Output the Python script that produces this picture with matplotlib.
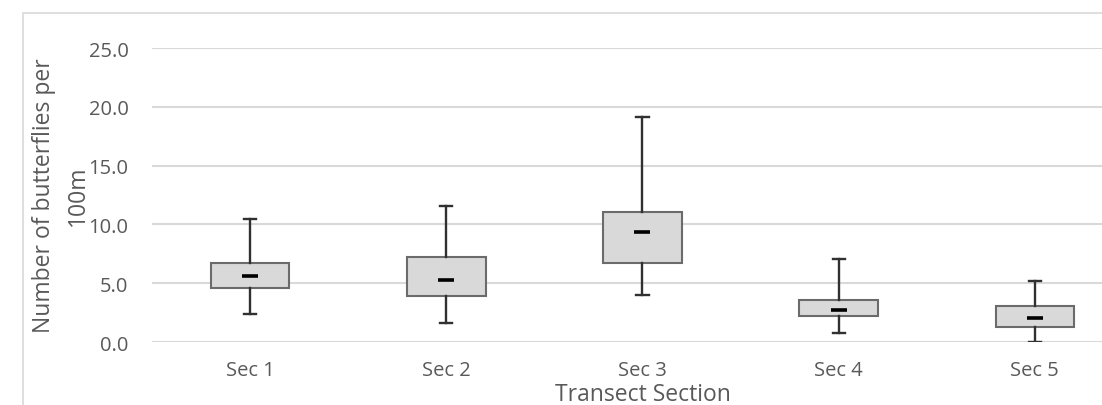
import matplotlib
matplotlib.use("Agg")
import matplotlib.pyplot as plt
from matplotlib.patches import Rectangle

# =========================
# DATA
# =========================
sections = ["Sec 1", "Sec 2", "Sec 3", "Sec 4", "Sec 5"]
whisker_low = [2.38, 1.64, 4.00, 0.77, 0.00]
q1 = [4.56, 3.89, 6.72, 2.24, 1.30]
middle = [5.61, 5.30, 9.38, 2.72, 2.04]
q3 = [6.74, 7.26, 11.03, 3.57, 3.09]
whisker_high = [10.48, 11.54, 19.13, 7.03, 5.19]
y_ticks = [0, 5, 10, 15, 20, 25]

text_col = "#595959"
grid_col = "#d9d9d9"

plt.rcParams["font.family"] = ["Open Sans", "DejaVu Sans"]

# =========================
# PLOT SETUP
# =========================
fig = plt.figure(figsize=(11.02, 4.06), dpi=100)
ax = fig.add_axes([0.138, 0.155, 0.890, 0.724])

# chart area border (only top/left visible in the crop)
fig.patches.append(Rectangle((23 / 1102, -0.1), 1.2, 1.1 - 14 / 406,
                             transform=fig.transFigure, fill=False,
                             edgecolor=grid_col, linewidth=1.2))

stats = []
for i, name in enumerate(sections):
    stats.append({"label": name, "whislo": whisker_low[i], "q1": q1[i],
                  "med": middle[i], "q3": q3[i], "whishi": whisker_high[i],
                  "fliers": []})

pos = list(range(1, len(sections) + 1))
ax.bxp(stats, positions=pos, widths=0.40, patch_artist=True,
       showfliers=False,
       boxprops=dict(facecolor="#d9d9d9", edgecolor="#6b6b6b", linewidth=1.5),
       whiskerprops=dict(color="#303030", linewidth=1.7),
       capprops=dict(color="#303030", linewidth=1.7),
       capwidths=0.062,
       medianprops=dict(visible=False), zorder=3)

# short dash marker for the middle value
ax.plot(pos, middle, linestyle="none", marker="_", markersize=11,
        markeredgewidth=2.6, color="black", zorder=4)

ax.set_xlim(0.5, len(sections) + 0.5)
ax.set_ylim(0, 25)
ax.set_yticks(y_ticks)
ax.set_yticklabels([f"{v:.1f}" for v in y_ticks])
ax.yaxis.grid(True, color=grid_col, linewidth=1.5)
ax.set_axisbelow(True)

for s in ax.spines.values():
    s.set_visible(False)
ax.tick_params(axis="both", length=0, labelsize=14.5, labelcolor=text_col)
ax.tick_params(axis="y", pad=17)
ax.tick_params(axis="x", pad=13)

# axis titles
fig.text(0.5835, 0.027, "Transect Section", fontsize=16.5, color=text_col,
         ha="center", va="center")
fig.text(61 / 1102, 0.517, "Number of butterflies per\n100m", fontsize=16.5,
         color=text_col, rotation=90, ha="center", va="center",
         multialignment="center", linespacing=1.5)

fig.savefig("out.png", dpi=100)
